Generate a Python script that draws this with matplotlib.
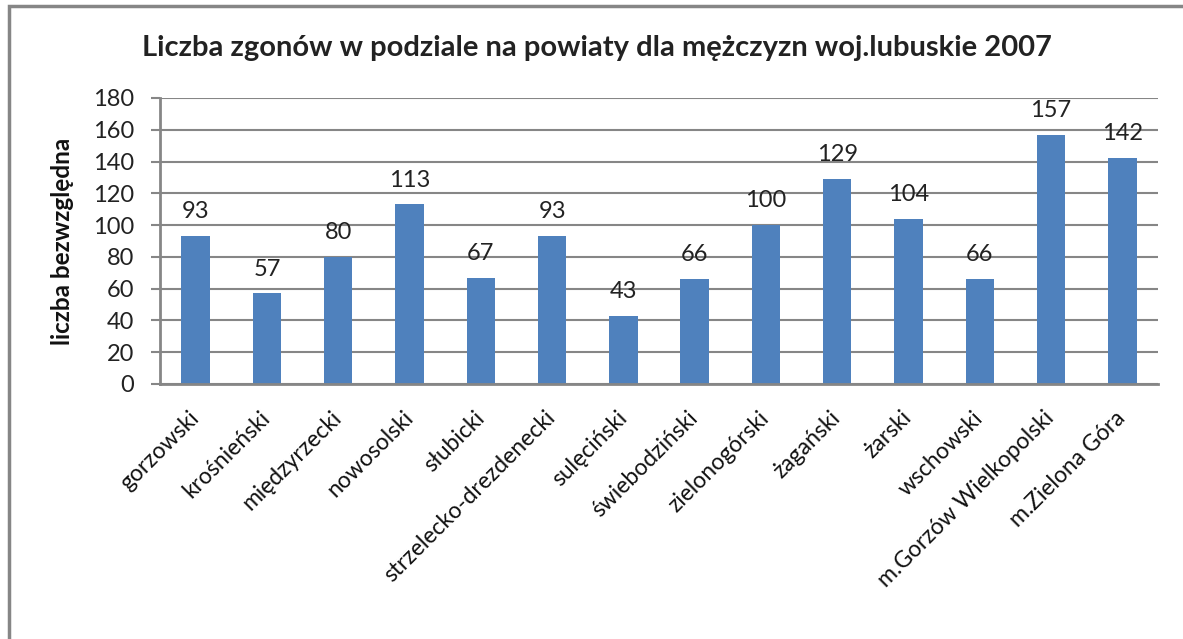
import matplotlib
matplotlib.use("Agg")
import matplotlib.pyplot as plt
from matplotlib.patches import Rectangle

# Powiaty (categories) and the number of deaths for men
powiaty = ["gorzowski", "krośnieński", "międzyrzecki", "nowosolski", "słubicki",
           "strzelecko-drezdenecki", "sulęciński", "świebodziński", "zielonogórski",
           "żagański", "żarski", "wschowski", "m.Gorzów Wielkopolski", "m.Zielona Góra"]
zgony = [93, 57, 80, 113, 67, 93, 43, 66, 100, 129, 104, 66, 157, 142]
y_ticks = [0, 20, 40, 60, 80, 100, 120, 140, 160, 180]

plt.rcParams["font.family"] = ["Lato", "DejaVu Sans"]

fig = plt.figure(figsize=(11.83, 6.39), dpi=100)
ax = fig.add_axes([160 / 1183, 1 - 384 / 639, 998 / 1183, 286 / 639])

grey = "#868686"
x = range(len(powiaty))
ax.bar(x, zgony, width=0.4, color="#4F81BD", zorder=3)

# value labels above each bar
for i, v in enumerate(zgony):
    ax.annotate(str(v), (i, v), xytext=(0, 10), textcoords="offset points",
                ha="center", va="bottom", fontsize=17, color="#222222")

ax.set_xlim(-0.5, len(powiaty) - 0.5)
ax.set_ylim(0, 180)
ax.set_yticks(y_ticks)
ax.yaxis.grid(True, color=grey, linewidth=1.5, zorder=0)
ax.tick_params(axis="y", length=6.5, width=1.5, color=grey, pad=12,
               labelsize=17, labelcolor="#222222")
ax.tick_params(axis="x", length=0, pad=22)
ax.set_xticks(list(x))
ax.set_xticklabels(powiaty, rotation=45, ha="right", va="center",
                   rotation_mode="anchor", fontsize=16.5, color="#111111")

for side in ["top", "right"]:
    ax.spines[side].set_visible(False)
for side in ["left", "bottom"]:
    ax.spines[side].set_color(grey)
    ax.spines[side].set_linewidth(2)
    ax.spines[side].set_zorder(4)

ax.set_ylabel("liczba bezwzględna", fontsize=17.5, fontweight="bold",
              color="#111111")
ax.yaxis.set_label_coords(-(160 - 74) / 998, 0.5)

fig.text(597 / 1183, 1 - 48 / 639, "Liczba zgonów w podziale na powiaty dla mężczyzn woj.lubuskie 2007",
         ha="center", va="center", fontsize=21, fontweight="bold", color="#222222")

# chart border, cut off at the right and bottom like in the source
fig.patches.append(Rectangle((9 / 1183, -0.1), 1.2, 1 - 6 / 639 + 0.1,
                             transform=fig.transFigure, fill=False,
                             edgecolor=grey, linewidth=2.5))

fig.savefig("out.png", dpi=100)
